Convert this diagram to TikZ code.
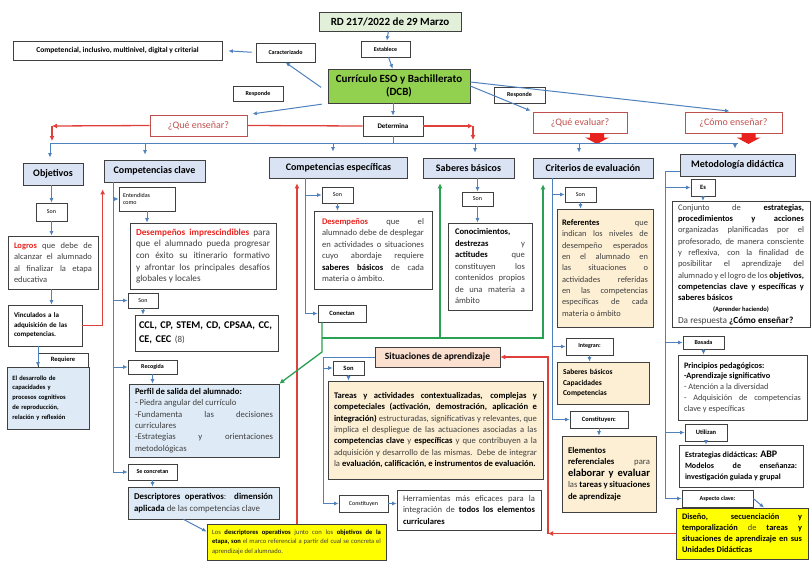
\documentclass[tikz,border=0pt]{standalone}
\usepackage{fontspec}
\setmainfont{Carlito}
\usetikzlibrary{arrows.meta}
\definecolor{mapCat}{HTML}{DAE3F3}
\definecolor{mapSky}{HTML}{DEEBF7}
\definecolor{mapMint}{HTML}{E2F0D9}
\definecolor{mapLeaf}{HTML}{92D050}
\definecolor{mapPeach}{HTML}{FBDFCF}
\definecolor{mapSand}{HTML}{FDEFD3}
\definecolor{mapYellow}{HTML}{FFFF00}
\definecolor{mapBlue}{HTML}{4F81BD}
\definecolor{mapRed}{HTML}{E0403A}
\definecolor{mapGreen}{HTML}{2AA052}
\definecolor{mapBrick}{HTML}{C0504D}
\definecolor{mapInk}{HTML}{404040}
\definecolor{mapHot}{HTML}{E8231F}
\hyphenpenalty=10000
\exhyphenpenalty=10000
\tolerance=9999
\tikzset{
  box/.style={draw=mapInk, fill=white, line width=0.7pt, inner xsep=6pt, inner ysep=3pt},
  catbox/.style={box, fill=mapCat, font=\bfseries\fontsize{10}{12}\selectfont},
  tagbox/.style={box, inner sep=1pt, font=\bfseries\fontsize{6}{7}\selectfont},
  sonbox/.style={box, inner sep=1pt, font=\fontsize{6}{7}\selectfont},
  quest/.style={draw=mapBrick, fill=white, line width=0.8pt, text=mapBrick, font=\fontsize{10}{12}\selectfont},
  txtbox/.style={box, align=justify, text=mapInk, font=\fontsize{8.3}{11.3}\selectfont},
  blink/.style={draw=mapBlue, line width=1pt, -{Latex[length=4.5pt,width=4pt]}},
  rlink/.style={draw=mapRed, line width=1.3pt, -{Latex[length=5pt,width=5pt]}},
  glink/.style={draw=mapGreen, line width=1.3pt, -{Latex[length=5pt,width=5pt]}}
}
\begin{document}
\begin{tikzpicture}[x=1pt, y=-1pt]
    \fill[white] (0,0) rectangle (812,563);
    \useasboundingbox (0,0) rectangle (812,563);

    \node[box, fill=mapMint, minimum width=142pt, minimum height=19pt, font=\bfseries\fontsize{11}{13}\selectfont] (rd) at (390,21.5) {RD 217/2022 de 29 Marzo};
    \node[tagbox, minimum width=49pt, minimum height=16pt] (est) at (385.5,49) {Establece};
    \node[box, fill=mapLeaf, minimum width=142pt, minimum height=34pt, align=center, font=\bfseries\fontsize{11}{13}\selectfont] (cur) at (399,86) {Currículo ESO y Bachillerato\\(DCB)};
    \node[tagbox, minimum width=59pt, minimum height=19pt] (car) at (285.5,52.5) {Caracterizado};
    \node[box, minimum width=209pt, minimum height=19pt, font=\bfseries\fontsize{7.5}{9}\selectfont] (compinc) at (117.5,50.5) {Competencial, inclusivo, multinivel, digital y criterial};
    \node[tagbox, minimum width=50pt, minimum height=15pt] (resp1) at (258,93.5) {Responde};
    \node[tagbox, minimum width=51pt, minimum height=16pt] (resp2) at (519.5,95) {Responde};
    \node[tagbox, minimum width=60pt, minimum height=20pt, font=\bfseries\fontsize{7}{8}\selectfont] (det) at (393,126) {Determina};
    \node[quest, minimum width=97pt, minimum height=21pt] (qens) at (198.5,125.5) {¿Qué enseñar?};
    \node[quest, minimum width=94pt, minimum height=21pt] (qeval) at (580,122.5) {¿Qué evaluar?};
    \node[quest, minimum width=97pt, minimum height=21pt] (qcomo) at (733.5,122.5) {¿Cómo enseñar?};
    \fill[mapHot] (590,133) -- (604,133) -- (604,137.5) -- (609,137.5) -- (597,144) -- (585,137.5) -- (590,137.5) -- cycle;
    \fill[mapHot] (741.5,133) -- (755.5,133) -- (755.5,137.5) -- (760.5,137.5) -- (748.5,144) -- (736.5,137.5) -- (741.5,137.5) -- cycle;

    \node[catbox, minimum width=60pt, minimum height=22pt] (obj) at (53,174) {Objetivos};
    \node[catbox, minimum width=101pt, minimum height=22pt] (cclave) at (154.5,171) {Competencias clave};
    \node[catbox, minimum width=138pt, minimum height=21pt] (cesp) at (338.5,167.5) {Competencias específicas};
    \node[catbox, minimum width=91pt, minimum height=20pt] (sab) at (468.5,168) {Saberes básicos};
    \node[catbox, minimum width=120pt, minimum height=20pt] (crit) at (593,168) {Criterios de evaluación};
    \node[catbox, minimum width=115pt, minimum height=22pt] (met) at (737.5,165) {Metodología didáctica};

    \node[sonbox, minimum width=31pt, minimum height=18pt] (son1) at (51.5,212) {Son};
    \node[txtbox, text width=78pt, minimum height=53pt, font=\fontsize{8.5}{11.5}\selectfont] (logros) at (53,262.5) {\textcolor{mapHot}{\textbf{Logros}} que debe de alcanzar el alumnado al finalizar la etapa educativa};
    \node[box, align=left, text width=62pt, minimum height=41pt, font=\bfseries\fontsize{7}{9.5}\selectfont] (vinc) at (45,325.5) {Vinculados a la\\adquisición de las\\competencias.};
    \node[tagbox, minimum width=50pt, minimum height=14pt, font=\bfseries\fontsize{6.5}{7}\selectfont] (req) at (63,360) {Requiere};
    \node[box, fill=mapSky, align=left, text width=72pt, minimum height=62pt, inner xsep=5pt, font=\bfseries\fontsize{6.5}{9.8}\selectfont] (desa) at (48.5,398) {El desarrollo de\\capacidades y\\procesos cognitivos\\de reproducción,\\relación y reflexión};

    \node[sonbox, align=left, text width=48pt, minimum height=24pt, inner xsep=4pt] (ent) at (147,199) {Entendidas\\como};
    \node[txtbox, text width=134pt, minimum height=66pt, font=\fontsize{9.2}{11.6}\selectfont] (desimp) at (203,256) {\textcolor{mapHot}{\textbf{Desempeños imprescindibles}} para que el alumnado pueda progresar con éxito su itinerario formativo y afrontar los principales desafíos globales y locales};
    \node[sonbox, minimum width=30pt, minimum height=15pt] (son2) at (143,300.5) {Son};
    \node[box, align=left, text width=135pt, minimum height=36pt, inner xsep=4pt, font=\fontsize{10.3}{13.5}\selectfont] (cclbox) at (206.5,333) {\textbf{CCL, CP, STEM, CD, CPSAA, CC,}\\\textbf{CE, CEC} {\color{mapInk}\fontsize{9}{13.5}\selectfont(8)}};
    \node[tagbox, minimum width=49pt, minimum height=14pt] (reco) at (152.5,367) {Recogida};
    \node[txtbox, fill=mapSky, text width=138pt, minimum height=73pt, font=\fontsize{8.7}{11.3}\selectfont] (perfil) at (204,420.5) {\textbf{\color{black}Perfil de salida del alumnado:}\\- Piedra angular del currículo\\-Fundamenta las decisiones curriculares\\-Estrategias y orientaciones metodológicas};
    \node[tagbox, minimum width=49pt, minimum height=16pt] (secon) at (152.5,472) {Se concretan};
    \node[txtbox, fill=mapSky, text width=139pt, minimum height=32pt, font=\fontsize{8.9}{11.5}\selectfont] (descop) at (203.5,503) {\textbf{\color{black}Descriptores operativos}: \textbf{\color{black}dimensión aplicada} de las competencias clave};
    \node[txtbox, fill=mapYellow, text width=169pt, minimum height=36pt, inner xsep=5pt, font=\fontsize{6.6}{9.5}\selectfont] (yellow) at (296.5,542) {Los \textbf{\color{black}descriptores operativos} junto con los \textbf{\color{black}objetivos de la etapa, son} el marco referencial a partir del cual se concreta el aprendizaje del alumnado.};

    \node[sonbox, minimum width=31pt, minimum height=16pt] (son3) at (337.5,195) {Son};
    \node[txtbox, text width=102pt, minimum height=78pt, inner xsep=8pt, font=\fontsize{8.6}{11.5}\selectfont] (desem) at (373,250) {\textcolor{mapHot}{\textbf{Desempeños}} que el alumnado debe de desplegar en actividades o situaciones cuyo abordaje requiere \textbf{\color{black}saberes básicos} de cada materia o ámbito.};
    \node[tagbox, minimum width=48pt, minimum height=17pt, font=\bfseries\fontsize{6.5}{7}\selectfont] (conectan) at (342,313.5) {Conectan};
    \node[sonbox, minimum width=31pt, minimum height=14pt] (son4) at (477.5,199) {Son};
    \node[txtbox, text width=70pt, minimum height=87pt, inner xsep=7pt, font=\fontsize{8.6}{11.5}\selectfont] (conoc) at (490,266.5) {\textbf{\color{black}Conocimientos, destrezas} y \textbf{\color{black}actitudes} que constituyen los contenidos propios de una materia a ámbito};

    \node[box, fill=mapPeach, minimum width=125pt, minimum height=20pt, font=\bfseries\fontsize{9.5}{11}\selectfont] (sit) at (437.5,357) {Situaciones de aprendizaje};
    \node[tagbox, minimum width=31pt, minimum height=14pt, font=\bfseries\fontsize{6.5}{7}\selectfont] (son5) at (348.5,368) {Son};
    \node[txtbox, fill=mapSand, text width=203pt, minimum height=98pt, font=\fontsize{8.6}{11.3}\selectfont] (tareas) at (435.5,430) {\textbf{\color{black}Tareas y actividades contextualizadas, complejas y competeciales (activación, demostración, aplicación e integración)} estructuradas, significativas y relevantes, que implica el despliegue de las actuaciones asociadas a las \textbf{\color{black}competencias clave} y \textbf{\color{black}específicas} y que contribuyen a la adquisición y desarrollo de las mismas. Debe de integrar la \textbf{\color{black}evaluación, calificación, e instrumentos de evaluación.}};
    \node[sonbox, minimum width=49pt, minimum height=17pt] (const1) at (363.5,503.5) {Constituyen};
    \node[txtbox, text width=132pt, minimum height=40pt, font=\fontsize{8.6}{11.5}\selectfont] (herr) at (469,510) {Herramientas más eficaces para la integración de \textbf{\color{black}todos los elementos curriculares}};

    \node[sonbox, minimum width=31pt, minimum height=15pt] (son6) at (580.5,194.5) {Son};
    \node[txtbox, fill=mapSand, text width=86pt, minimum height=118pt, inner xsep=5pt, font=\fontsize{8.4}{11.3}\selectfont] (refer) at (605,268) {\textbf{\color{black}Referentes} que indican los niveles de desempeño esperados en el alumnado en las situaciones o actividades referidas en las competencias específicas de cada materia o ámbito};
    \node[tagbox, minimum width=47pt, minimum height=17pt] (integ) at (589.5,346.5) {Integran:};
    \node[box, fill=mapSand, align=left, text width=80pt, minimum height=42pt, font=\bfseries\fontsize{7.5}{10.5}\selectfont] (sbcc) at (603,383) {Saberes básicos\\Capacidades\\Competencias};
    \node[tagbox, minimum width=58pt, minimum height=17pt, font=\bfseries\fontsize{6.5}{7}\selectfont] (const2) at (599,419.5) {Constituyen:};
    \node[txtbox, fill=mapSand, text width=82pt, minimum height=76pt, font=\fontsize{8.7}{11.5}\selectfont] (elem) at (609,474) {\textbf{\color{black}Elementos referenciales} para \textbf{\color{black}\fontsize{10.5}{11.5}\selectfont elaborar y evaluar} las \textbf{\color{black}tareas y situaciones de aprendizaje}};

    \node[tagbox, minimum width=24pt, minimum height=17pt, font=\bfseries\fontsize{6.5}{7}\selectfont] (es) at (703,187.5) {Es};
    \node[txtbox, text width=126pt, minimum height=125pt, font=\fontsize{8.5}{11.3}\selectfont] (conj) at (741,264.5) {Conjunto de \textbf{\color{black}estrategias, procedimientos y acciones} organizadas planificadas por el profesorado, de manera consciente y reflexiva, con la finalidad de posibilitar el aprendizaje del alumnado y el logro de los \textbf{\color{black}objetivos, competencias clave y específicas y saberes básicos}\\\hspace*{\fill}\textbf{\color{black}\fontsize{6.5}{9}\selectfont (Aprender haciendo)}\hspace*{\fill}\\{\fontsize{9.3}{11.3}\selectfont Da respuesta \textbf{\color{black}¿Cómo enseñar?}}};
    \node[tagbox, minimum width=41pt, minimum height=13pt] (basada) at (703.5,342.5) {Basada};
    \node[txtbox, text width=117pt, minimum height=65pt, font=\fontsize{8.3}{10.8}\selectfont] (princ) at (742.5,387.5) {\textbf{\color{black}Principios pedagógicos:}\\\textbf{\color{black}-Aprendizaje significativo}\\- Atención a la diversidad\\- Adquisición de competencias clave y específicas};
    \node[tagbox, minimum width=42pt, minimum height=17pt, font=\bfseries\fontsize{6.5}{7}\selectfont] (utilizan) at (706,432.5) {Utilizan};
    \node[txtbox, text width=112pt, minimum height=42pt, font=\bfseries\fontsize{8}{11}\selectfont] (estrat) at (741,466) {\color{black}Estrategias didácticas: {\fontsize{10}{11}\selectfont ABP}\\Modelos de enseñanza: investigación guiada y grupal};
    \node[tagbox, minimum width=71pt, minimum height=17pt] (aspecto) at (717.5,498.5) {Aspecto clave:};
    \node[txtbox, fill=mapYellow, text width=120pt, minimum height=51pt, font=\fontsize{8.4}{11}\selectfont] (diseno) at (742,533.5) {\textbf{\color{black}Diseño, secuenciación y temporalización} de \textbf{\color{black}tareas y situaciones de aprendizaje en sus Unidades Didácticas}};

    \draw[blink] (rd) -- (est);
    \draw[blink] (est) -- (cur);
    \draw[blink, shorten <=8pt] ([yshift=-6pt]cur.west) -- (car.south);
    \draw[blink, shorten <=4pt, shorten >=6pt] (car.west) -- (compinc.east);
    \draw[blink, shorten <=6pt, shorten >=5pt] (cur.south west) -- (qens.north east);
    \draw[blink, shorten >=2pt] (cur.east) -- (qeval.north west);
    \draw[blink, shorten >=4pt] ([yshift=4pt]cur.east) -- (qcomo.north);
    \draw[blink] (det.north |- cur.south) -- (det.north);

    \coordinate (topl) at (50,143);
    \coordinate (topr) at (738,143);
    \draw[mapBlue, line width=0.9pt] (topl) -- (topr);
    \draw[mapBlue, line width=0.9pt] (det.south) -- (det.south |- topl);
    \foreach \n/\xx in {obj/50, cclave/145, cesp/333, sab/475, crit/579, met/735}
        \draw[blink, shorten >=5pt] (\xx,0 |- topl) -- (\xx,0 |- \n.north);

    \coordinate (rl) at (52,126);
    \coordinate (rlb) at (52,141);
    \coordinate (rr) at (473,126);
    \coordinate (rrb) at (473,140);
    \draw[mapRed, line width=1.3pt] (det.west) -- (qens.east);
    \draw[rlink] (qens.west) -- (rl);
    \draw[rlink] (rl) -- (rlb);
    \draw[rlink] (det.east) -- (rr);
    \draw[rlink] (rr) -- (rrb);

    \draw[blink] (son1.north |- obj.south) -- (son1.north);
    \draw[blink] (son1.south) -- (son1.south |- logros.north);
    \draw[blink] (son1.south |- logros.south) -- (son1.south |- vinc.north);
    \draw[blink] (38,0 |- vinc.south) -- (38,0 |- desa.north);
    \draw[rlink, shorten >=7pt] (vinc.east) -| ([xshift=-1pt]cclave.south west);

    \draw[blink] (113,0 |- cclave.south) |- (secon.west);
    \foreach \n in {ent, son2, reco}
        \draw[blink] (113,0 |- \n.west) -- (\n.west);
    \draw[blink] (ent.south) -- (ent.south |- desimp.north);
    \draw[blink] (son2.south) -- (son2.south |- cclbox.north);
    \draw[blink] (reco.south) -- (reco.south |- perfil.north);
    \draw[blink] (secon.south) -- (secon.south |- descop.north);
    \draw[blink] ([xshift=-20pt]descop.south) -- ([yshift=-8pt]yellow.north west);
    \draw[rlink, shorten >=5pt] (297,0 |- yellow.north) -- (297,0 |- cesp.south);

    \draw[blink] (305,0 |- cesp.south) |- (conectan.west);
    \draw[blink] (305,0 |- son3.west) -- (son3.west);
    \draw[blink] (son3.south) -- (son3.south |- desem.north);
    \draw[blink] (son4.north |- sab.south) -- (son4.north);
    \draw[blink] (son4.south) -- (son4.south |- conoc.north);

    \coordinate (gj) at (322,338);
    \coordinate (gk) at (322,352);
    \draw[glink] (322,0 |- conectan.south) -- (gj) -- (gk) -- (perfil.north east);
    \draw[glink, shorten >=5pt] (gj) -| (440,0 |- sab.south);
    \draw[glink, shorten >=6pt] (gj) -| (543,0 |- crit.south);

    \draw[blink] (sit.west) -| (323,0 |- const1.west) -- (const1.west);
    \draw[blink] (323,0 |- son5.west) -- (son5.west);
    \draw[blink] (son5.south) -- (son5.south |- tareas.north);
    \draw[blink] (const1.east) -- (const1.east -| herr.west);

    \draw[blink] (552,0 |- crit.south) |- (const2.west);
    \foreach \n in {son6, integ}
        \draw[blink] (552,0 |- \n.west) -- (\n.west);
    \draw[blink] (son6.south) -- (son6.south |- refer.north);
    \draw[blink] (integ.south) -- (integ.south |- sbcc.north);
    \draw[blink] (const2.south) -- (const2.south |- elem.north);

    \draw[rlink] (diseno.west) -- (548,0 |- diseno.west);
    \draw[rlink] (548,0 |- diseno.west) |- (sit.east);

    \draw[blink] ([yshift=-6pt]met.west) -| (665,0 |- aspecto.west) -- (aspecto.west);
    \foreach \n in {es, basada, utilizan}
        \draw[blink] (665,0 |- \n.west) -- (\n.west);
    \draw[blink] (es.south) -- (es.south |- conj.north);
    \draw[blink] (basada.south) -- (basada.south |- princ.north);
    \draw[blink] (utilizan.south) -- (utilizan.south |- estrat.north);
    \draw[blink] (aspecto.east) -- ([xshift=22pt]diseno.north);
\end{tikzpicture}
\end{document}
